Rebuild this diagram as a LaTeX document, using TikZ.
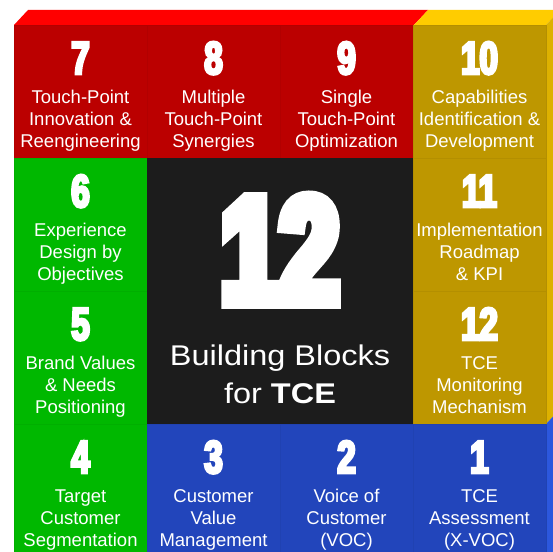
\documentclass[tikz,border=0pt]{standalone}
\usepackage{fontspec}
\usetikzlibrary{calc}
\setmainfont{Liberation Sans}
% condensed heavy digits and a widened caption face
\newfontfamily\numfont{Liberation Sans}[FakeStretch=0.72,BoldFeatures={FakeBold=6}]
\newfontfamily\bignumfont{Liberation Sans}[FakeStretch=0.70,BoldFeatures={FakeBold=9}]
\newfontfamily\widefont{Liberation Sans}[FakeStretch=1.14]

\definecolor{redF}{HTML}{BB0000}
\definecolor{redT}{HTML}{FF0000}
\definecolor{yelF}{HTML}{BE9700}
\definecolor{yelT}{HTML}{FFCC00}
\definecolor{yelS}{HTML}{DDB100}
\definecolor{grnF}{HTML}{00B800}
\definecolor{bluF}{HTML}{2245BB}
\definecolor{bluS}{HTML}{2C57DD}
\definecolor{core}{HTML}{1C1C1C}

\tikzset{
  cellbox/.style={minimum width=133pt,minimum height=133pt,inner sep=0pt,outer sep=0pt,line width=0.5pt},
  cellnum/.style={anchor=base,inner sep=0pt,text=white,font=\numfont\bfseries\fontsize{46}{46}\selectfont},
  celltext/.style={anchor=base,inner sep=0pt,text=white,font=\fontsize{18.5}{22}\selectfont},
}

% one building block: name, left x, top y, fill colour, number, caption lines
\newcommand\tcecell[6]{%
  \node[cellbox,fill=#4,draw=#4!95!black] (#1) at (#2+66.5,#3+66.5) {};
  \node[cellnum] (#1-num) at ($(#1.north)+(0,49)$) {#5};
  \node[celltext] (#1-txt) at ($(#1.north)+(0,78)$) {\parbox[t]{133pt}{\centering #6}};
}

\begin{document}
\begin{tikzpicture}[x=1pt,y=-1pt]
  \useasboundingbox (0,0) rectangle (553,551);
  \fill[white] (0,0) rectangle (553,551);
  \clip (0,0) rectangle (553,551);

  % bevelled top and right faces
  \fill[redT] (14,25) -- (28,10) -- (428,10) -- (414,25) -- cycle;
  \fill[yelT] (414,25) -- (428,10) -- (560,10) -- (546,25) -- cycle;
  \fill[yelS] (546,25) -- (560,10) -- (560,409) -- (546,424) -- cycle;
  \fill[bluS] (546,424) -- (560,409) -- (560,570) -- (546,570) -- cycle;

  % top row
  \tcecell{c7}{14}{25}{redF}{7}{Touch-Point\\Innovation \&\\Reengineering}
  \tcecell{c8}{147}{25}{redF}{8}{Multiple\\Touch-Point\\Synergies}
  \tcecell{c9}{280}{25}{redF}{9}{Single\\Touch-Point\\Optimization}
  \tcecell{c10}{413}{25}{yelF}{10}{Capabilities\\Identification \&\\Development}
  % middle rows
  \tcecell{c6}{14}{158}{grnF}{6}{Experience\\Design by\\Objectives}
  \tcecell{c11}{413}{158}{yelF}{11}{Implementation\\Roadmap\\\& KPI}
  \tcecell{c5}{14}{291}{grnF}{5}{Brand Values\\\& Needs\\Positioning}
  \tcecell{c12}{413}{291}{yelF}{12}{TCE\\Monitoring\\Mechanism}
  % bottom row
  \tcecell{c4}{14}{424}{grnF}{4}{Target\\Customer\\Segmentation}
  \tcecell{c3}{147}{424}{bluF}{3}{Customer\\Value\\Management}
  \tcecell{c2}{280}{424}{bluF}{2}{Voice of\\Customer\\(VOC)}
  \tcecell{c1}{413}{424}{bluF}{1}{TCE\\Assessment\\(X-VOC)}

  % centre block
  \node[fill=core,minimum width=266pt,minimum height=266pt,inner sep=0pt,outer sep=0pt] (core) at (280,291) {};
  \node[anchor=base,inner sep=0pt,text=white,font=\bignumfont\bfseries\fontsize{150}{150}\selectfont] (big) at (280,302) {12};
  \node[anchor=base,inner sep=0pt,text=white,font=\widefont\fontsize{28.5}{38}\selectfont] (title) at (280,365)
    {\parbox[t]{262pt}{\centering Building Blocks\\for \textbf{TCE}}};
\end{tikzpicture}
\end{document}
